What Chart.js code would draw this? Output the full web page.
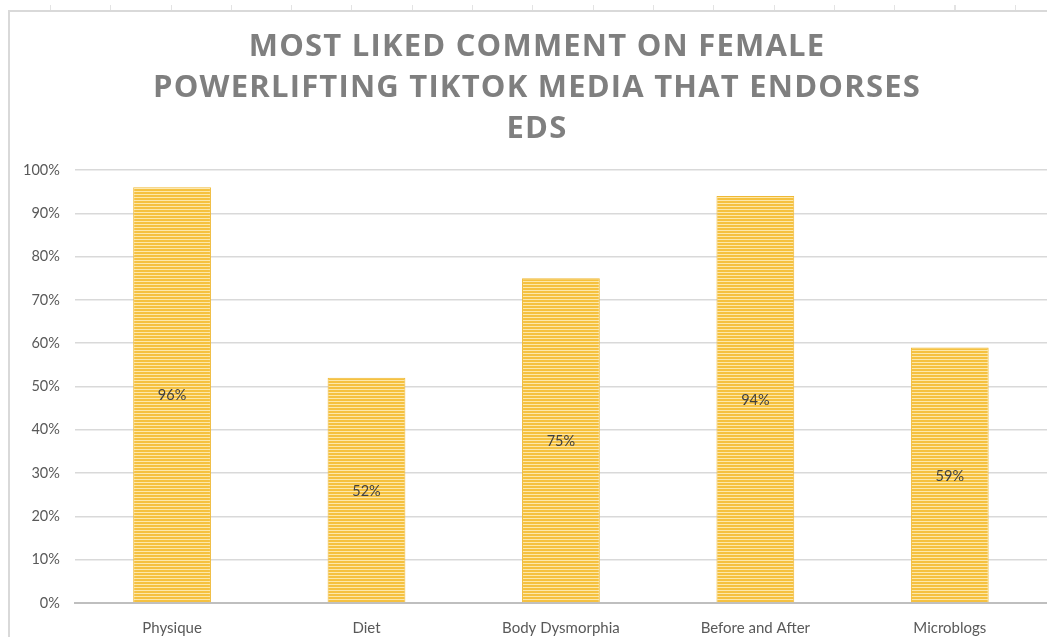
<!DOCTYPE html>
<html lang="en">
<head>
  <meta charset="UTF-8" />
  <title>Most Liked Comment on Female Powerlifting TikTok Media</title>
  <script src="https://cdn.jsdelivr.net/npm/chart.js"></script>
  <style>
    html, body { margin: 0; padding: 0; background: #fff; }
    #wrap { position: relative; width: 1047px; height: 637px; overflow: hidden; }
    #frame {
      position: absolute; left: 8px; top: 10px; right: -2px; bottom: -2px;
      border-top: 2px solid #d9d9d9; border-left: 2px solid #d9d9d9;
    }
    #ruler {
      position: absolute; left: 50px; top: 5px; right: 0; height: 5px;
      background: repeating-linear-gradient(to right, #e3e3e3 0 1px, transparent 1px 60.3px);
    }
    canvas { position: absolute; left: 0; top: 0; }
  </style>
</head>
<body>
  <div id="wrap">
    <div id="ruler"></div>
    <div id="frame"></div>
    <canvas id="chart" width="1047" height="637"></canvas>
  </div>

  <script>
    const categories = ['Physique', 'Diet', 'Body Dysmorphia', 'Before and After', 'Microblogs'];
    const values = [96, 52, 75, 94, 59];
    const yTicks = [0, 10, 20, 30, 40, 50, 60, 70, 80, 90, 100];
    const titleLines = ['MOST LIKED COMMENT ON FEMALE', 'POWERLIFTING TIKTOK MEDIA THAT ENDORSES', 'EDS'];

    // striped gold fill like the spreadsheet pattern
    function stripePattern(ctx) {
      const c = document.createElement('canvas');
      c.width = 4; c.height = 3;
      const p = c.getContext('2d');
      p.fillStyle = '#f5c140';
      p.fillRect(0, 0, 4, 3);
      p.fillStyle = '#fde8aa';
      p.fillRect(0, 2, 4, 1);
      return ctx.createPattern(c, 'repeat');
    }

    // spaced-out bold title (canvas letterSpacing), room kept by layout padding
    const spacedTitle = {
      id: 'spacedTitle',
      afterDraw(chart) {
        const c = chart.ctx;
        c.save();
        c.font = 'bold 31px "Open Sans"';
        c.letterSpacing = '1.2px';
        c.fillStyle = '#7f7f7f';
        c.textAlign = 'center';
        c.textBaseline = 'middle';
        titleLines.forEach((line, i) => c.fillText(line, 537, 47 + i * 41));
        c.restore();
      }
    };

    // value labels centred in each bar
    const centerLabels = {
      id: 'centerLabels',
      afterDatasetsDraw(chart) {
        const c = chart.ctx;
        const meta = chart.getDatasetMeta(0);
        c.save();
        c.font = '14.5px Lato';
        c.fillStyle = '#404040';
        c.textAlign = 'center';
        c.textBaseline = 'middle';
        meta.data.forEach((bar, i) => {
          c.fillText(values[i] + '%', bar.x, (bar.y + bar.base) / 2 + 1);
        });
        c.restore();
      }
    };

    const ctx = document.getElementById('chart').getContext('2d');
    new Chart(ctx, {
      type: 'bar',
      data: {
        labels: categories,
        datasets: [{
          data: values,
          backgroundColor: stripePattern(ctx),
          borderColor: '#efb935',
          borderWidth: 1,
          categoryPercentage: 1,
          barPercentage: 0.4
        }]
      },
      plugins: [centerLabels, spacedTitle],
      options: {
        responsive: false,
        animation: false,
        layout: { padding: { left: 8, right: 0, top: 170, bottom: -16 } },
        plugins: {
          legend: { display: false },
          tooltip: { enabled: false },
          title: { display: false }
        },
        scales: {
          x: {
            grid: { display: false, drawTicks: false },
            border: { color: '#bfbfbf', width: 2 },
            ticks: { color: '#595959', font: { family: 'Lato', size: 15 }, padding: 16 }
          },
          y: {
            min: 0,
            max: 100,
            afterBuildTicks(axis) { axis.ticks = yTicks.map(v => ({ value: v })); },
            grid: { color: '#d9d9d9', lineWidth: 1.5, drawTicks: false },
            border: { display: false },
            ticks: {
              color: '#595959',
              font: { family: 'Lato', size: 14.5 },
              padding: 15,
              callback: v => v + '%'
            }
          }
        }
      }
    });
  </script>
</body>
</html>
